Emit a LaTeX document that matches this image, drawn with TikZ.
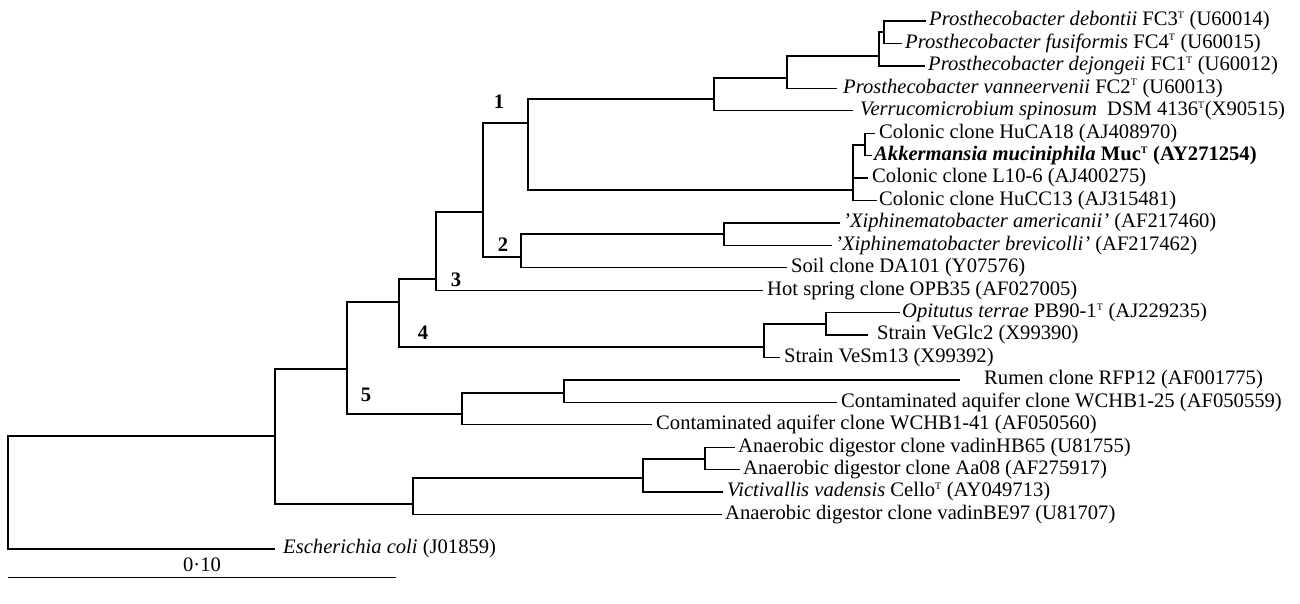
\documentclass[tikz,border=0pt]{standalone}
\usepackage{fontspec}
\setmainfont{Liberation Serif}
\usepackage{tikz}
\usetikzlibrary{positioning}
\newcommand{\typestrain}{\textsuperscript{\fontsize{10}{10}\selectfont T}}
\tikzstyle{leaf} = [anchor=west, inner xsep=4pt, inner ysep=1pt]
\tikzstyle{clade} = [font=\fontsize{20.6}{24}\selectfont\bfseries, inner sep=0pt]
\tikzstyle{branch} = [draw, line width=1.3pt]

\begin{document}
\begin{tikzpicture}[x=1pt, y=-1pt, font=\fontsize{20.6}{24}\selectfont]
	\useasboundingbox (0,0) rectangle (1300,604);

	% leaves, top to bottom
	\node [leaf, inner xsep=3pt] (debontii) at (926, 21) {\textit{Prosthecobacter debontii} FC3\typestrain{} (U60014)};
	\node [leaf, inner xsep=3pt] (fusiformis) at (902, 43.4) {\textit{Prosthecobacter fusiformis} FC4\typestrain{} (U60015)};
	\node [leaf, inner xsep=3pt] (dejongeii) at (925, 65.9) {\textit{Prosthecobacter dejongeii} FC1\typestrain{} (U60012)};
	\node [leaf, inner xsep=6pt] (vanneervenii) at (837, 88.3) {\textit{Prosthecobacter vanneervenii} FC2\typestrain{} (U60013)};
	\node [leaf, inner xsep=7pt] (spinosum) at (853, 110.7) {\textit{Verrucomicrobium spinosum}\ \ DSM 4136\typestrain(X90515)};
	\node [leaf] (hucaA) at (875, 133.2) {Colonic clone HuCA18 (AJ408970)};
	\node [leaf, inner xsep=2pt] (akk) at (872, 155.6) {\textbf{\textit{Akkermansia muciniphila} Muc\typestrain{} (AY271254)}};
	\node [leaf] (lten) at (868, 178) {Colonic clone L10-6 (AJ400275)};
	\node [leaf, inner xsep=2pt] (hucc) at (877, 200.4) {Colonic clone HuCC13 (AJ315481)};
	\node [leaf, inner xsep=3pt] (americanii) at (840, 222.9) {\textit{'Xiphinematobacter americanii'} (AF217460)};
	\node [leaf, inner xsep=3pt] (brevicolli) at (832, 245.3) {\textit{'Xiphinematobacter brevicolli'} (AF217462)};
	\node [leaf] (soil) at (787, 267.7) {Soil clone DA101 (Y07576)};
	\node [leaf] (hotspring) at (763, 290.2) {Hot spring clone OPB35 (AF027005)};
	\node [leaf, inner xsep=2pt] (opitutus) at (900, 312.6) {\textit{Opitutus terrae} PB90-1\typestrain{} (AJ229235)};
	\node [leaf, inner xsep=9pt] (veglc) at (868, 335) {Strain VeGlc2 (X99390)};
	\node [leaf] (vesm) at (780, 357.5) {Strain VeSm13 (X99392)};
	\node [leaf, inner xsep=24pt] (rumen) at (960, 379.9) {Rumen clone RFP12 (AF001775)};
	\node [leaf] (wchbA) at (837, 402.3) {Contaminated aquifer clone WCHB1-25 (AF050559)};
	\node [leaf] (wchbB) at (652, 424.7) {Contaminated aquifer clone WCHB1-41 (AF050560)};
	\node [leaf, inner xsep=3pt] (vadinhb) at (735, 447.2) {Anaerobic digestor clone vadinHB65 (U81755)};
	\node [leaf, inner xsep=3pt] (aa) at (740, 469.6) {Anaerobic digestor clone Aa08 (AF275917)};
	\node [leaf] (victivallis) at (723, 492) {\textit{Victivallis vadensis} Cello\typestrain{} (AY049713)};
	\node [leaf, inner xsep=3pt] (vadinbe) at (722, 514.5) {Anaerobic digestor clone vadinBE97 (U81707)};
	\node [leaf, inner xsep=8pt] (ecoli) at (275, 549) {\textit{Escherichia coli} (J01859)};

	% inner nodes
	\coordinate (root) at (8, 490);
	\coordinate (nin) at (275, 436);
	\coordinate (nfive) at (347, 369);
	\coordinate (nfour) at (399, 302);
	\coordinate (nthree) at (436, 279);
	\coordinate (ntwelve) at (483, 212);
	\coordinate (none) at (528, 123);
	\coordinate (nprv) at (714, 99);
	\coordinate (npr) at (787, 78);
	\coordinate (nprc) at (879, 56);
	\coordinate (nprd) at (884, 32);
	\coordinate (ncol) at (853, 190);
	\coordinate (ncolb) at (865, 145);
	\coordinate (ntwo) at (521, 257);
	\coordinate (nxip) at (724, 234);
	\coordinate (nve) at (764, 347);
	\coordinate (nop) at (826, 324);
	\coordinate (naq) at (462, 414);
	\coordinate (naqb) at (564, 393);
	\coordinate (nan) at (413, 504);
	\coordinate (nvic) at (643, 478);
	\coordinate (nvad) at (705, 459);

	\path [branch] (root) |- (nin);
	\path [branch] (root) |- (ecoli.west);
	\path [branch] (nin) |- (nfive);
	\path [branch] (nin) |- (nan);
	\path [branch] (nfive) |- (nfour);
	\path [branch] (nfive) |- (naq);
	\path [branch] (nfour) |- (nthree);
	\path [branch] (nfour) |- (nve);
	\path [branch] (nthree) |- (ntwelve);
	\path [branch] (nthree) |- (hotspring.west);
	\path [branch] (ntwelve) |- (none);
	\path [branch] (ntwelve) |- (ntwo);
	\path [branch] (none) |- (nprv);
	\path [branch] (none) |- (ncol);
	\path [branch] (nprv) |- (npr);
	\path [branch] (nprv) |- (spinosum.west);
	\path [branch] (npr) |- (nprc);
	\path [branch] (npr) |- (vanneervenii.west);
	\path [branch] (nprc) |- (nprd);
	\path [branch] (nprc) |- (dejongeii.west);
	\path [branch] (nprd) |- (debontii.west);
	\path [branch] (nprd) |- (fusiformis.west);
	\path [branch] (ncol) |- (ncolb);
	\path [branch] (ncol) |- (lten.west);
	\path [branch] (ncol) |- (hucc.west);
	\path [branch] (ncolb) |- (hucaA.west);
	\path [branch] (ncolb) |- (akk.west);
	\path [branch] (ntwo) |- (nxip);
	\path [branch] (ntwo) |- (soil.west);
	\path [branch] (nxip) |- (americanii.west);
	\path [branch] (nxip) |- (brevicolli.west);
	\path [branch] (nve) |- (nop);
	\path [branch] (nve) |- (vesm.west);
	\path [branch] (nop) |- (opitutus.west);
	\path [branch] (nop) |- (veglc.west);
	\path [branch] (naq) |- (naqb);
	\path [branch] (naq) |- (wchbB.west);
	\path [branch] (naqb) |- (rumen.west);
	\path [branch] (naqb) |- (wchbA.west);
	\path [branch] (nan) |- (nvic);
	\path [branch] (nan) |- (vadinbe.west);
	\path [branch] (nvic) |- (nvad);
	\path [branch] (nvic) |- (victivallis.west);
	\path [branch] (nvad) |- (vadinhb.west);
	\path [branch] (nvad) |- (aa.west);

	% clade numbers
	\node [clade] (cone) at (499, 102) {1};
	\node [clade] (ctwo) at (503, 245) {2};
	\node [clade] (cthree) at (456, 280) {3};
	\node [clade] (cfour) at (423, 333) {4};
	\node [clade] (cfive) at (366, 395) {5};

	% scale bar
	\coordinate (sbl) at (8, 577);
	\coordinate (sbr) at (396, 577);
	\coordinate (sbmid) at (202, 577);
	\path [draw, line width=1pt] (sbl) -- (sbr);
	\node [above=5pt of sbmid, inner sep=0pt] (sblabel) {0·10};
\end{tikzpicture}
\end{document}
